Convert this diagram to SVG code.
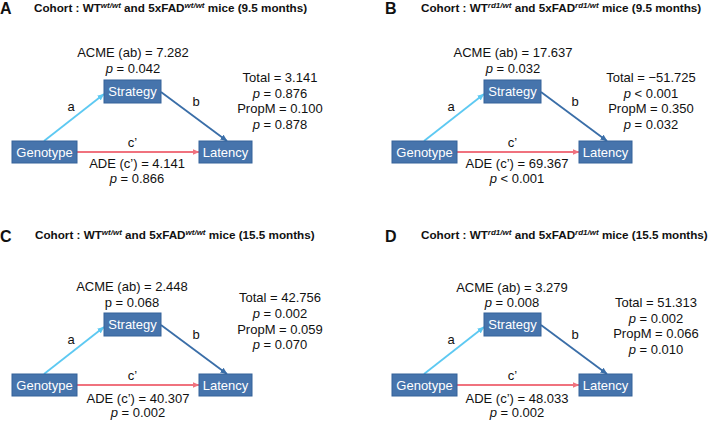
<svg xmlns="http://www.w3.org/2000/svg" width="708" height="421" viewBox="0 0 708 421">
<style>
text{font-family:"Liberation Sans",Arial,sans-serif;fill:#111}
.lt{font-size:16px;font-weight:bold}
.tt{font-size:11.7px;font-weight:bold}
.sp{font-size:8px;font-style:italic}
.lb{font-size:13px;text-anchor:middle}
.nt{font-size:13px;text-anchor:middle;fill:#fff}
.box{fill:#4674ac;stroke:#35629a;stroke-width:1}
.it{font-style:italic}
.ca{stroke:#5dc9f2;stroke-width:1.8;fill:none;marker-end:url(#ma)}
.cb{stroke:#3a6ea8;stroke-width:1.8;fill:none;marker-end:url(#mb)}
.cc{stroke:#f0727e;stroke-width:1.8;fill:none;marker-end:url(#mc)}
</style>
<defs>
<marker id="ma" markerUnits="userSpaceOnUse" markerWidth="7" markerHeight="7" refX="6.5" refY="3.5" orient="auto"><path d="M0,0.5 L7,3.5 L0,6.5 Z" fill="#5dc9f2"/></marker>
<marker id="mb" markerUnits="userSpaceOnUse" markerWidth="7" markerHeight="7" refX="6.5" refY="3.5" orient="auto"><path d="M0,0.5 L7,3.5 L0,6.5 Z" fill="#3a6ea8"/></marker>
<marker id="mc" markerUnits="userSpaceOnUse" markerWidth="7" markerHeight="7" refX="6.5" refY="3.5" orient="auto"><path d="M0,0.5 L7,3.5 L0,6.5 Z" fill="#f0727e"/></marker>
</defs>

<!-- Panel A -->
<g id="panelA">
<text class="lt" x="0" y="13.5">A</text>
<text class="tt" x="34" y="12">Cohort : WT<tspan class="sp" dy="-4">wt/wt</tspan><tspan dy="4"> and 5xFAD</tspan><tspan class="sp" dy="-4">wt/wt</tspan><tspan dy="4"> mice (9.5 months)</tspan></text>
<g id="A-connectors">
<path class="ca" d="M44,141 L104,94"/>
<path class="cb" d="M161,92 L227,141"/>
<path class="cc" d="M77,152 L199,152"/>
</g>
<g id="A-genotype"><rect class="box" x="12" y="141" width="65" height="22"/><text class="nt" x="44.5" y="156.5">Genotype</text></g>
<g id="A-strategy"><rect class="box" x="104" y="80" width="57" height="23"/><text class="nt" x="132.5" y="96">Strategy</text></g>
<g id="A-latency"><rect class="box" x="199" y="141" width="53" height="22"/><text class="nt" x="225.5" y="156.5">Latency</text></g>
<text class="lb" x="133" y="57">ACME (ab) = 7.282</text>
<text class="lb" x="133" y="73"><tspan class="it">p</tspan> = 0.042</text>
<text class="lb" x="280" y="82">Total = 3.141</text>
<text class="lb" x="280" y="97.5"><tspan class="it">p</tspan> = 0.876</text>
<text class="lb" x="280" y="113">PropM = 0.100</text>
<text class="lb" x="280" y="128.5"><tspan class="it">p</tspan> = 0.878</text>
<text class="lb" x="71" y="111">a</text>
<text class="lb" x="196" y="106">b</text>
<text class="lb" x="132.5" y="147">c’</text>
<text class="lb" x="137" y="168">ADE (c’) = 4.141</text>
<text class="lb" x="137" y="183"><tspan class="it">p</tspan> = 0.866</text>
</g>

<!-- Panel B -->
<g id="panelB">
<text class="lt" x="385" y="13.5">B</text>
<text class="tt" x="421" y="12">Cohort : WT<tspan class="sp" dy="-4">rd1/wt</tspan><tspan dy="4"> and 5xFAD</tspan><tspan class="sp" dy="-4">rd1/wt</tspan><tspan dy="4"> mice (9.5 months)</tspan></text>
<g id="B-connectors">
<path class="ca" d="M424,141 L484,94"/>
<path class="cb" d="M541,92 L607,141"/>
<path class="cc" d="M457,152 L579,152"/>
</g>
<g id="B-genotype"><rect class="box" x="392" y="141" width="65" height="22"/><text class="nt" x="424.5" y="156.5">Genotype</text></g>
<g id="B-strategy"><rect class="box" x="484" y="80" width="57" height="23"/><text class="nt" x="512.5" y="96">Strategy</text></g>
<g id="B-latency"><rect class="box" x="579" y="141" width="53" height="22"/><text class="nt" x="605.5" y="156.5">Latency</text></g>
<text class="lb" x="513" y="57">ACME (ab) = 17.637</text>
<text class="lb" x="513" y="73"><tspan class="it">p</tspan> = 0.032</text>
<text class="lb" x="651" y="82">Total = −51.725</text>
<text class="lb" x="651" y="97.5"><tspan class="it">p</tspan> &lt; 0.001</text>
<text class="lb" x="651" y="113">PropM = 0.350</text>
<text class="lb" x="651" y="128.5"><tspan class="it">p</tspan> = 0.032</text>
<text class="lb" x="451" y="111">a</text>
<text class="lb" x="575" y="106">b</text>
<text class="lb" x="512.5" y="147">c’</text>
<text class="lb" x="517" y="168">ADE (c’) = 69.367</text>
<text class="lb" x="517" y="183"><tspan class="it">p</tspan> &lt; 0.001</text>
</g>

<!-- Panel C -->
<g id="panelC">
<text class="lt" x="0" y="242">C</text>
<text class="tt" x="35" y="239">Cohort : WT<tspan class="sp" dy="-4">wt/wt</tspan><tspan dy="4"> and 5xFAD</tspan><tspan class="sp" dy="-4">wt/wt</tspan><tspan dy="4"> mice (15.5 months)</tspan></text>
<g id="C-connectors">
<path class="ca" d="M44,374 L104,327"/>
<path class="cb" d="M161,325 L227,374"/>
<path class="cc" d="M77,385 L199,385"/>
</g>
<g id="C-genotype"><rect class="box" x="12" y="374" width="65" height="22"/><text class="nt" x="44.5" y="389.5">Genotype</text></g>
<g id="C-strategy"><rect class="box" x="104" y="313" width="57" height="23"/><text class="nt" x="132.5" y="329">Strategy</text></g>
<g id="C-latency"><rect class="box" x="199" y="374" width="53" height="22"/><text class="nt" x="225.5" y="389.5">Latency</text></g>
<text class="lb" x="132" y="291">ACME (ab) = 2.448</text>
<text class="lb" x="132" y="306.5">p = 0.068</text>
<text class="lb" x="280" y="302">Total = 42.756</text>
<text class="lb" x="280" y="318"><tspan class="it">p</tspan> = 0.002</text>
<text class="lb" x="280" y="333.5">PropM = 0.059</text>
<text class="lb" x="280" y="349"><tspan class="it">p</tspan> = 0.070</text>
<text class="lb" x="71" y="344">a</text>
<text class="lb" x="196" y="339">b</text>
<text class="lb" x="132.5" y="380">c’</text>
<text class="lb" x="138" y="402.5">ADE (c’) = 40.307</text>
<text class="lb" x="138" y="417"><tspan class="it">p</tspan> = 0.002</text>
</g>

<!-- Panel D -->
<g id="panelD">
<text class="lt" x="385" y="242">D</text>
<text class="tt" x="421" y="239">Cohort : WT<tspan class="sp" dy="-4">rd1/wt</tspan><tspan dy="4"> and 5xFAD</tspan><tspan class="sp" dy="-4">rd1/wt</tspan><tspan dy="4"> mice (15.5 months)</tspan></text>
<g id="D-connectors">
<path class="ca" d="M424,374 L484,327"/>
<path class="cb" d="M541,325 L607,374"/>
<path class="cc" d="M457,385 L579,385"/>
</g>
<g id="D-genotype"><rect class="box" x="392" y="374" width="65" height="22"/><text class="nt" x="424.5" y="389.5">Genotype</text></g>
<g id="D-strategy"><rect class="box" x="484" y="313" width="57" height="23"/><text class="nt" x="512.5" y="329">Strategy</text></g>
<g id="D-latency"><rect class="box" x="579" y="374" width="53" height="22"/><text class="nt" x="605.5" y="389.5">Latency</text></g>
<text class="lb" x="512" y="291.5">ACME (ab) = 3.279</text>
<text class="lb" x="512" y="306.5"><tspan class="it">p</tspan> = 0.008</text>
<text class="lb" x="656" y="307">Total = 51.313</text>
<text class="lb" x="656" y="322.5"><tspan class="it">p</tspan> = 0.002</text>
<text class="lb" x="656" y="338">PropM = 0.066</text>
<text class="lb" x="656" y="354"><tspan class="it">p</tspan> = 0.010</text>
<text class="lb" x="451" y="344">a</text>
<text class="lb" x="575" y="339">b</text>
<text class="lb" x="512.5" y="380">c’</text>
<text class="lb" x="517" y="402.5">ADE (c’) = 48.033</text>
<text class="lb" x="517" y="417"><tspan class="it">p</tspan> = 0.002</text>
</g>
</svg>
